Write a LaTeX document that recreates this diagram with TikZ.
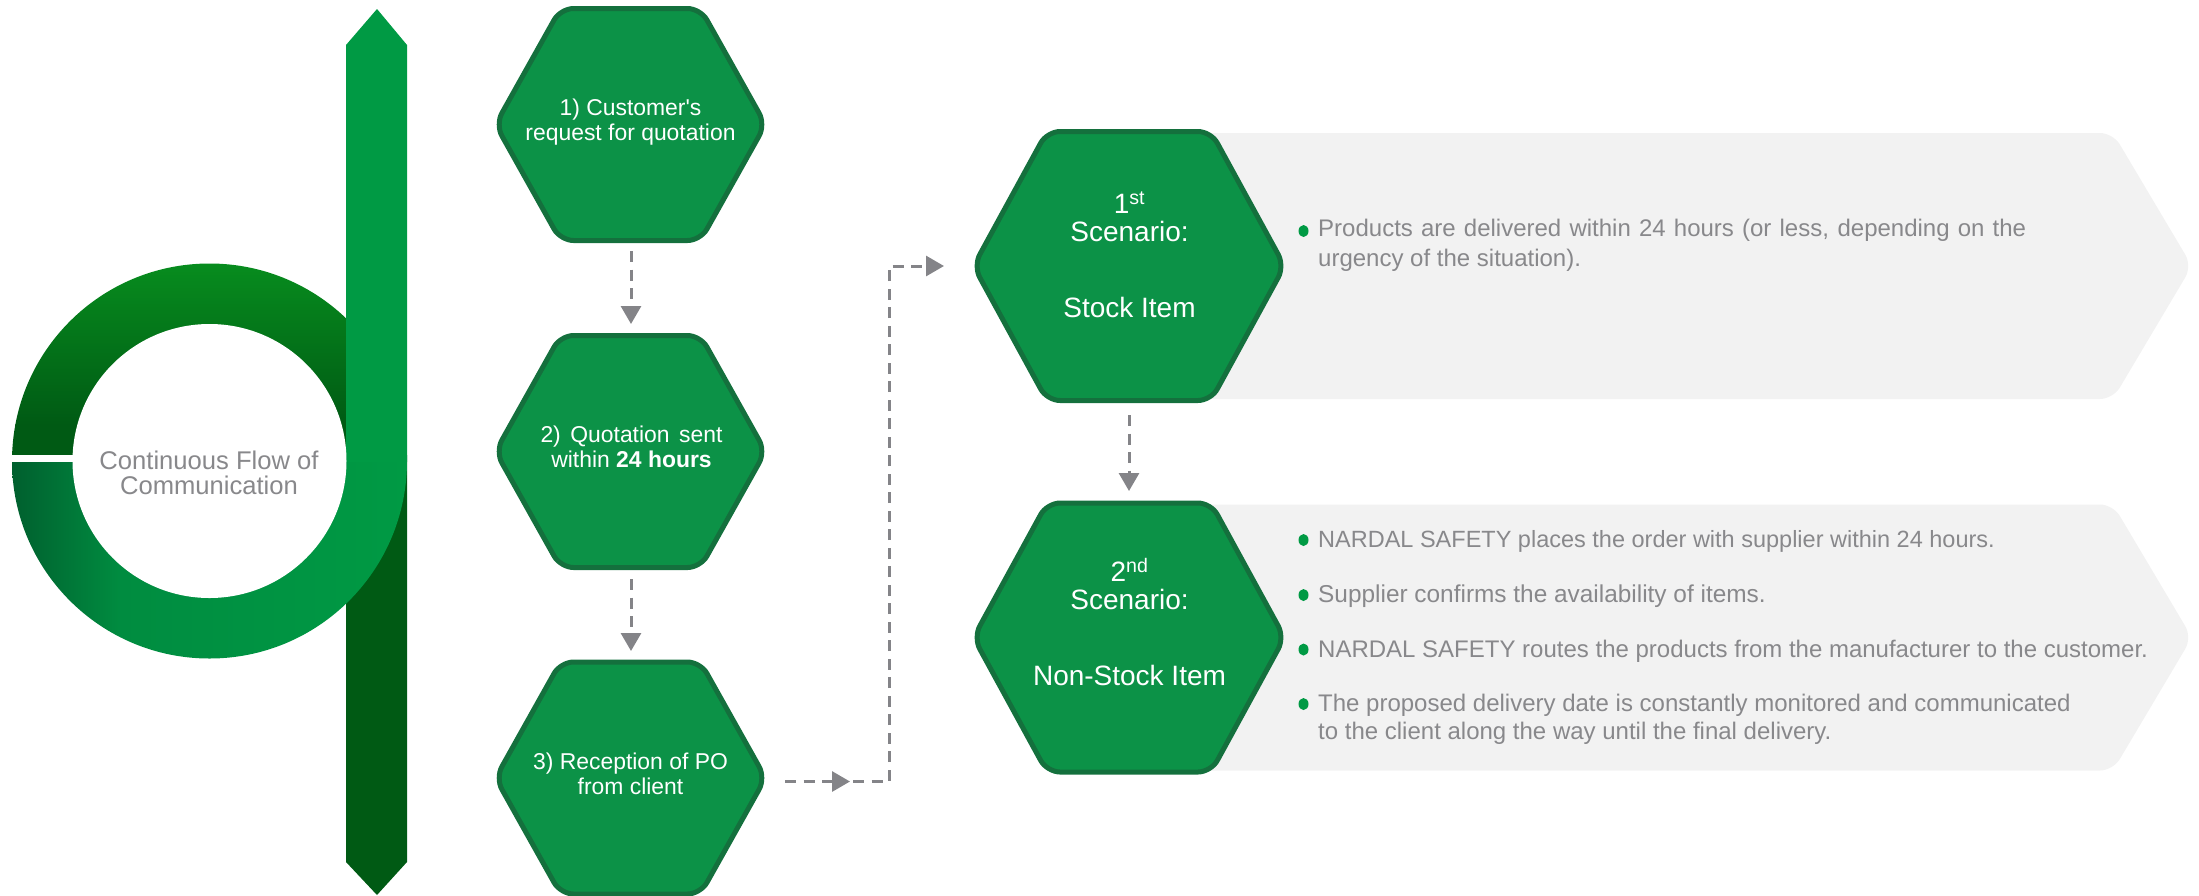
\documentclass[tikz,border=0pt]{standalone}
\usepackage{fontspec}
\setmainfont{Liberation Sans}
\newfontfamily\plainsans{Liberation Sans}
\usetikzlibrary{arrows.meta,calc,shapes.geometric}
\definecolor{hexfill}{HTML}{0C9247}
\definecolor{hexline}{HTML}{14703D}
\definecolor{barbright}{HTML}{009A44}
\definecolor{bardark}{HTML}{005A14}
\definecolor{ringtop}{HTML}{078C1E}
\definecolor{ringleft}{HTML}{005F2E}
\definecolor{ringmid}{HTML}{008C40}
\definecolor{txtgrey}{HTML}{88888B}
\definecolor{panelgrey}{HTML}{F2F2F2}
\definecolor{arrowgrey}{HTML}{848488}
\tikzset{
  hexshape/.style={fill=hexfill,draw=hexline,line width=5pt,rounded corners=13pt,line join=round},
  paneshape/.style={fill=panelgrey,rounded corners=13pt},
  hextext/.style={text=white,align=center,inner sep=0pt,font=\fontsize{22.9}{25}\selectfont},
  scentext/.style={text=white,align=center,inner sep=0pt,font=\fontsize{28}{28}\selectfont},
  bodytext/.style={text=txtgrey,align=left,inner sep=0pt,anchor=west,font=\fontsize{24}{29.5}\selectfont},
  flowtext/.style={text=txtgrey,align=center,inner sep=0pt,font=\fontsize{25.6}{25.5}\selectfont},
  bulletdot/.style={fill=barbright,ellipse,draw=none,inner sep=0pt,minimum width=10pt,minimum height=12pt},
  flowarrow/.style={draw=arrowgrey,line width=3pt,dash pattern=on 11pt off 7.5pt,-{Triangle[length=18pt,width=20pt,fill=arrowgrey]}},
  flowline/.style={draw=arrowgrey,line width=3pt,dash pattern=on 11pt off 7.5pt},
}
\newcommand{\hexagon}[1]{%
  \path[hexshape] ($(#1)+(-135,0)$) -- ($(#1)+(-70,-116)$) -- ($(#1)+(70,-116)$) -- ($(#1)+(135,0)$) -- ($(#1)+(70,116)$) -- ($(#1)+(-70,116)$) -- cycle;}
\newcommand{\scenhex}[1]{%
  \path[hexshape] ($(#1)+(-155.5,0)$) -- ($(#1)+(-82,-134.5)$) -- ($(#1)+(82,-134.5)$) -- ($(#1)+(155.5,0)$) -- ($(#1)+(82,134.5)$) -- ($(#1)+(-82,134.5)$) -- cycle;}
\newcommand{\panelshape}[1]{%
  \path[paneshape] ($(#1)+(0,-133)$) -- ($(#1)+(984,-133)$) -- ($(#1)+(1063,0)$) -- ($(#1)+(984,133)$) -- ($(#1)+(0,133)$) -- cycle;}
\begin{document}
\begin{tikzpicture}[x=1pt,y=-1pt]
\useasboundingbox (0,0) rectangle (2199,895);
\coordinate (ring) at (209.5,461);
% upper half of ring
\begin{scope}
  \clip (0,0) rectangle (420,454);
  \clip (ring) circle[radius=197.5];
  \shade[top color=ringtop,bottom color=bardark] (0,263) rectangle (420,425);
  \fill[bardark] (0,424) rectangle (420,460);
\end{scope}
% bar
\fill[bardark] (346,455) -- (407,455) -- (407,862) -- (377,895) -- (346,862) -- cycle;
\fill[barbright] (346,45) -- (377,9) -- (407,45) -- (407,462) -- (346,462) -- cycle;
% lower half of ring
\begin{scope}
  \clip (0,462) rectangle (420,670);
  \clip (ring) circle[radius=197.5];
  \shade[left color=ringleft,right color=ringmid] (11,462) rectangle (120.5,670);
  \shade[left color=ringmid,right color=barbright] (120,462) rectangle (407,670);
\end{scope}
\fill[white] (ring) circle[radius=137];
\node[flowtext] (flow) at (209,473) {Continuous Flow of\\Communication};

% left hexagons
\coordinate (c1) at (630.5,124.5);
\coordinate (c2) at (630.5,451.5);
\coordinate (c3) at (630.5,778);
\hexagon{c1}
\hexagon{c2}
\hexagon{c3}
\node[hextext] (h1) at (630.5,122.5) {{\plainsans 1) Customer's}\\request for quotation};
\node[hextext] (h2) at (631.5,447) {\hbox to 182pt{2) Quotation sent}\\within \textbf{24 hours}};
\node[hextext] (h3) at (630.5,774) {3) Reception of PO\\from client};

% panels and scenario hexagons
\coordinate (p1) at (1129,266);
\coordinate (p2) at (1129,637.5);
\panelshape{p1}
\panelshape{p2}
\scenhex{p1}
\scenhex{p2}
\node[scentext] (s1) at (1129.5,255) {1\textsuperscript{st}\\Scenario:\\[48pt]Stock Item};
\node[scentext] (s2) at (1129.5,622.5) {2\textsuperscript{nd}\\Scenario:\\[48pt]Non-Stock Item};

% connectors
\coordinate (a1s) at (631,251);
\coordinate (a1e) at (631,324);
\coordinate (a2s) at (631,579);
\coordinate (a2e) at (631,651);
\coordinate (a3s) at (785,781.5);
\coordinate (a3m) at (850,781.5);
\coordinate (a3c) at (889,781.5);
\coordinate (a3t) at (889,266);
\coordinate (a3e) at (944,266);
\coordinate (a4s) at (1129,415);
\coordinate (a4e) at (1129,491);
\draw[flowarrow] (a1s) -- (a1e);
\draw[flowarrow] (a2s) -- (a2e);
\draw[flowarrow] (a3s) -- (a3m);
\draw[flowline] ([xshift=3pt]a3m) -- (a3c) -- (a3t) -- (a3e);
\draw[flowarrow] ([xshift=-16pt]a3e) -- (a3e);
\draw[flowarrow] (a4s) -- (a4e);

% bullets and text
\node[bulletdot] (b1) at (1303.5,231) {};
\node[bodytext] (t1) at (1318,245.5) {\hbox to 708pt{Products are delivered within 24 hours (or less, depending on the}\\urgency of the situation).};
\node[bulletdot] (b2) at (1303.5,540) {};
\node[bodytext,font=\fontsize{23.5}{29.5}\selectfont] (t2) at (1318,541) {NARDAL SAFETY places the order with supplier within 24 hours.};
\node[bulletdot] (b3) at (1303.5,595) {};
\node[bodytext,font=\fontsize{24.4}{29.5}\selectfont] (t3) at (1318,596) {Supplier confirms the availability of items.};
\node[bulletdot] (b4) at (1303.5,649.5) {};
\node[bodytext] (t4) at (1318,651) {NARDAL SAFETY routes the products from the manufacturer to the customer.};
\node[bulletdot] (b5) at (1303.5,704) {};
\node[bodytext,font=\fontsize{24}{28.5}\selectfont] (t5) at (1318,719.5) {The proposed delivery date is constantly monitored and communicated\\to the client along the way until the final delivery.};
\end{tikzpicture}
\end{document}
